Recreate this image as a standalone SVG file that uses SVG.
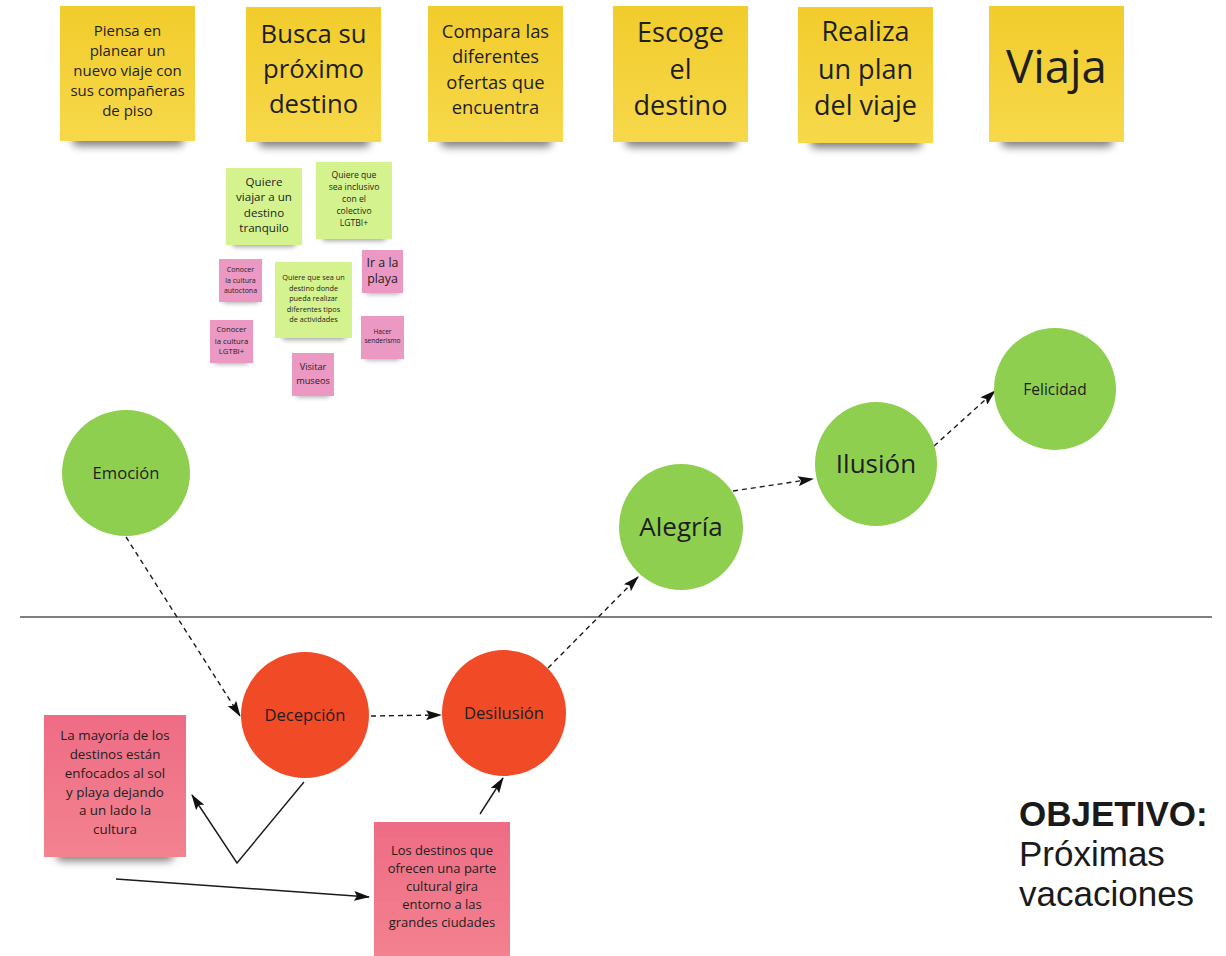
<svg xmlns="http://www.w3.org/2000/svg" width="1226" height="956" viewBox="0 0 1226 956">
<defs>
<linearGradient id="gy" x1="0" y1="0" x2="0" y2="1"><stop offset="0" stop-color="#f2cc2c"/><stop offset="1" stop-color="#f6d84a"/></linearGradient>
<linearGradient id="gr" x1="0" y1="0" x2="0" y2="1"><stop offset="0" stop-color="#ee6c85"/><stop offset="1" stop-color="#f3828f"/></linearGradient>
<filter id="sh" x="-30%" y="-100%" width="160%" height="300%"><feGaussianBlur stdDeviation="4"/></filter>
<filter id="shs" x="-30%" y="-100%" width="160%" height="300%"><feGaussianBlur stdDeviation="2.5"/></filter>
<marker id="ah" viewBox="0 0 16 10" refX="15" refY="5" markerWidth="16" markerHeight="10" markerUnits="userSpaceOnUse" orient="auto"><path d="M0,0 L16,5 L0,10 L3,5 Z" fill="#111"/></marker>
</defs>
<style>
text{font-family:"Open Sans","Noto Sans","DejaVu Sans",sans-serif;fill:#1e1e1e;text-anchor:middle}
.y{fill:url(#gy)}
.lg{fill:#d4f38f}
.pk{fill:#eb98c3}
.rp{fill:url(#gr)}
.gc{fill:#8fcf4f}
.rc{fill:#f04a26}
.sh{fill:#000;opacity:.5;filter:url(#sh)}
.shs{fill:#000;opacity:.35;filter:url(#shs)}
.dash{fill:none;stroke:#1a1a1a;stroke-width:1.4;stroke-dasharray:5 4;marker-end:url(#ah)}
.sol{fill:none;stroke:#1a1a1a;stroke-width:1.4;marker-end:url(#ah)}
.obj{font-family:"Liberation Sans",Arial,sans-serif;text-anchor:start;fill:#1a1a1a;font-size:35px}
</style>
<rect width="1226" height="956" fill="#fff"/>
<line x1="20" y1="617" x2="1212" y2="617" stroke="#555" stroke-width="1.6"/>

<g id="s1"><rect class="sh" x="72" y="132" width="112" height="14" rx="6"/><rect class="y" x="60" y="6" width="135" height="135"/>
<text font-size="15"><tspan x="127.5" y="36">Piensa en</tspan><tspan x="127.5" y="56">planear un</tspan><tspan x="127.5" y="76">nuevo viaje con</tspan><tspan x="127.5" y="96">sus compañeras</tspan><tspan x="127.5" y="116">de piso</tspan></text></g>
<g id="s2"><rect class="sh" x="258" y="133" width="112" height="14" rx="6"/><rect class="y" x="246" y="7" width="135" height="135"/>
<text font-size="25.7"><tspan x="313.5" y="43">Busca su</tspan><tspan x="313.5" y="78">próximo</tspan><tspan x="313.5" y="113">destino</tspan></text></g>
<g id="s3"><rect class="sh" x="440" y="133" width="112" height="14" rx="6"/><rect class="y" x="428" y="6" width="135" height="136"/>
<text font-size="18.4"><tspan x="495.5" y="38">Compara las</tspan><tspan x="495.5" y="63">diferentes</tspan><tspan x="495.5" y="88.5">ofertas que</tspan><tspan x="495.5" y="113.5">encuentra</tspan></text></g>
<g id="s4"><rect class="sh" x="625" y="133" width="112" height="14" rx="6"/><rect class="y" x="613" y="6" width="135" height="136"/>
<text font-size="27"><tspan x="680.5" y="42">Escoge</tspan><tspan x="680.5" y="78.5">el</tspan><tspan x="680.5" y="115">destino</tspan></text></g>
<g id="s5"><rect class="sh" x="810" y="134" width="112" height="14" rx="6"/><rect class="y" x="798" y="7" width="135" height="136"/>
<text font-size="27"><tspan x="865.5" y="41">Realiza</tspan><tspan x="865.5" y="79">un plan</tspan><tspan x="865.5" y="115">del viaje</tspan></text></g>
<g id="s6"><rect class="sh" x="1001" y="133" width="112" height="14" rx="6"/><rect class="y" x="989" y="6" width="135" height="136"/>
<text font-size="45.6"><tspan x="1056.5" y="83">Viaja</tspan></text></g>

<g id="g1"><rect class="shs" x="232" y="238" width="64" height="9" rx="4"/><rect class="lg" x="226" y="168" width="76" height="77"/>
<text font-size="11.6"><tspan x="264" y="186">Quiere</tspan><tspan x="264" y="201">viajar a un</tspan><tspan x="264" y="217">destino</tspan><tspan x="264" y="232">tranquilo</tspan></text></g>
<g id="g2"><rect class="shs" x="322" y="232" width="64" height="9" rx="4"/><rect class="lg" x="316" y="162" width="76" height="77"/>
<text font-size="8.6"><tspan x="354" y="178">Quiere que</tspan><tspan x="354" y="190">sea inclusivo</tspan><tspan x="354" y="202">con el</tspan><tspan x="354" y="214">colectivo</tspan><tspan x="354" y="226">LGTBI+</tspan></text></g>
<g id="g3"><rect class="shs" x="282" y="331" width="64" height="9" rx="4"/><rect class="lg" x="275" y="262" width="77" height="76"/>
<text font-size="7.3"><tspan x="313.5" y="280">Quiere que sea un</tspan><tspan x="313.5" y="291">destino donde</tspan><tspan x="313.5" y="301">pueda realizar</tspan><tspan x="313.5" y="311.5">diferentes tipos</tspan><tspan x="313.5" y="321.5">de actividades</tspan></text></g>
<g id="p1"><rect class="shs" x="223" y="296" width="36" height="7" rx="3"/><rect class="pk" x="219" y="259" width="43" height="43"/>
<text font-size="7"><tspan x="240.5" y="271.5">Conocer</tspan><tspan x="240.5" y="282.5">la cultura</tspan><tspan x="240.5" y="292.5">autoctona</tspan></text></g>
<g id="p2"><rect class="shs" x="366" y="287" width="34" height="7" rx="3"/><rect class="pk" x="362" y="250" width="41" height="43"/>
<text font-size="12.4"><tspan x="382.5" y="266.5">Ir a la</tspan><tspan x="382.5" y="283">playa</tspan></text></g>
<g id="p3"><rect class="shs" x="214" y="357" width="35" height="7" rx="3"/><rect class="pk" x="210" y="320" width="43" height="43"/>
<text font-size="7.7"><tspan x="231.5" y="332">Conocer</tspan><tspan x="231.5" y="344">la cultura</tspan><tspan x="231.5" y="354">LGTBI+</tspan></text></g>
<g id="p4"><rect class="shs" x="365" y="353" width="35" height="7" rx="3"/><rect class="pk" x="361" y="316" width="43" height="43"/>
<text font-size="6.6"><tspan x="382.5" y="334">Hacer</tspan><tspan x="382.5" y="343">senderismo</tspan></text></g>
<g id="p5"><rect class="shs" x="296" y="390" width="34" height="7" rx="3"/><rect class="pk" x="292" y="353" width="42" height="43"/>
<text font-size="9.2"><tspan x="313" y="370">Visitar</tspan><tspan x="313" y="383.5">museos</tspan></text></g>

<g id="connectors">
<line class="dash" x1="126" y1="537" x2="240" y2="716"/>
<line class="dash" x1="371" y1="716" x2="441" y2="715"/>
<line class="dash" x1="548" y1="668" x2="638" y2="577"/>
<line class="dash" x1="733" y1="491" x2="813" y2="479"/>
<line class="dash" x1="934" y1="446" x2="995" y2="391"/>
<polyline class="sol" points="304,782 237,863 192,795"/>
<line class="sol" x1="116" y1="879" x2="369" y2="897"/>
<line class="sol" x1="480" y1="814" x2="503" y2="778"/>
</g>

<g id="emocion"><ellipse class="gc" cx="126" cy="473" rx="64" ry="63"/><text x="126" y="479" font-size="16.6">Emoción</text></g>
<g id="decepcion"><ellipse class="rc" cx="305" cy="715" rx="64" ry="63"/><text x="305" y="721" font-size="16.6">Decepción</text></g>
<g id="desilusion"><ellipse class="rc" cx="504" cy="713" rx="62" ry="63"/><text x="504" y="719" font-size="16.6">Desilusión</text></g>
<g id="alegria"><ellipse class="gc" cx="681" cy="527" rx="62" ry="63"/><text x="681" y="536" font-size="26">Alegría</text></g>
<g id="ilusion"><ellipse class="gc" cx="876" cy="464" rx="61" ry="62"/><text x="876" y="473" font-size="26">Ilusión</text></g>
<g id="felicidad"><ellipse class="gc" cx="1055" cy="389" rx="61" ry="61"/><text x="1055" y="394.5" font-size="15.5">Felicidad</text></g>

<g id="r1"><rect class="sh" x="56" y="847" width="118" height="14" rx="6"/><rect class="rp" x="44" y="715" width="142" height="142"/>
<text font-size="13.4"><tspan x="115" y="740">La mayoría de los</tspan><tspan x="115" y="759">destinos están</tspan><tspan x="115" y="778">enfocados al sol</tspan><tspan x="115" y="797">y playa dejando</tspan><tspan x="115" y="815">a un lado la</tspan><tspan x="115" y="834">cultura</tspan></text></g>
<g id="r2"><rect class="rp" x="374" y="822" width="136" height="140"/>
<text font-size="13"><tspan x="442" y="855">Los destinos que</tspan><tspan x="442" y="873">ofrecen una parte</tspan><tspan x="442" y="891">cultural gira</tspan><tspan x="442" y="909">entorno a las</tspan><tspan x="442" y="927">grandes ciudades</tspan></text></g>

<g id="objetivo"><text class="obj" x="1019" y="826" font-weight="bold">OBJETIVO:</text><text class="obj" x="1019" y="866">Próximas</text><text class="obj" x="1019" y="906">vacaciones</text></g>
</svg>
